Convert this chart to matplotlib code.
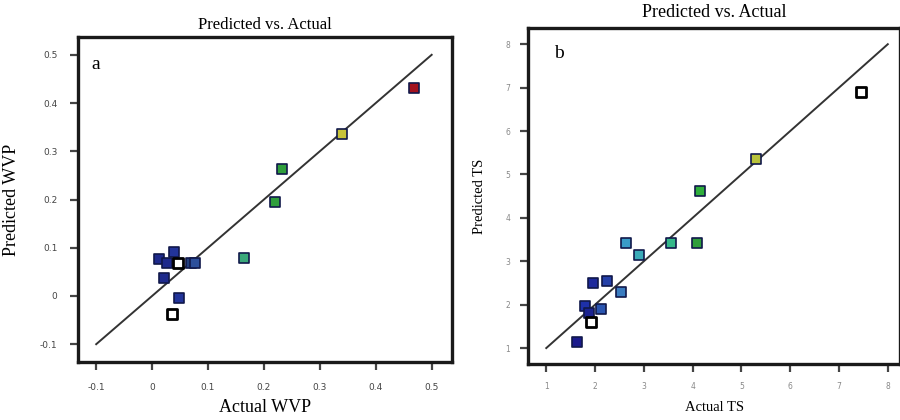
import matplotlib.pyplot as plt

plt.rcParams["font.family"] = ["Liberation Serif", "DejaVu Serif"]

# Panel a: water vapour permeability
wvp_actual = [0.468, 0.339, 0.232, 0.220, 0.164, 0.013, 0.039, 0.026, 0.046,
              0.069, 0.077, 0.021, 0.048, 0.035]
wvp_pred = [0.432, 0.336, 0.263, 0.195, 0.079, 0.077, 0.091, 0.068, 0.068,
            0.068, 0.068, 0.037, -0.004, -0.037]
wvp_colors = ["#a3121f", "#c8c43a", "#2f9e3c", "#2f9e3c", "#3aa87a", "#1e2a8c",
              "#22349a", "#1e2a8c", "white", "#23407e", "#2c4f9c", "#1e2a8c",
              "#22349a", "white"]

# Panel b: tensile strength
ts_actual = [7.46, 5.29, 4.15, 3.56, 4.09, 2.64, 2.90, 1.96, 2.25, 2.53,
             1.80, 2.12, 1.88, 1.92, 1.63]
ts_pred = [6.89, 5.35, 4.61, 3.41, 3.41, 3.41, 3.14, 2.49, 2.54, 2.29,
           1.96, 1.91, 1.80, 1.60, 1.13]
ts_colors = ["white", "#b8c23a", "#2fae3c", "#35b88a", "#2f9e3c", "#3a9cc8",
             "#3aaab8", "#1e2a9c", "#2540a8", "#3a7cc0", "#1e30a8", "#2a55b0",
             "#1a2290", "white", "#1a1a8c"]


def draw_panel(ax, actual, pred, colors, lims, ticks, tick_fmt, tick_size, tick_color, pad):
    ax.plot([ticks[0], ticks[-1]], [ticks[0], ticks[-1]], color="#333333", lw=1.4, zorder=1)
    for x, y, c in zip(actual, pred, colors):
        if c == "white":
            ax.scatter(x, y, marker="s", s=42, facecolor="white", edgecolor="black",
                       linewidths=2.0, zorder=3)
        else:
            ax.scatter(x, y, marker="s", s=42, facecolor=c, edgecolor="#10184a",
                       linewidths=1.2, zorder=3)
    ax.set_xlim(lims[0], lims[1])
    ax.set_ylim(lims[2], lims[3])
    ax.set_xticks(ticks)
    ax.set_yticks(ticks)
    ax.set_xticklabels([tick_fmt(t) for t in ticks], family="DejaVu Sans",
                       fontsize=tick_size, color=tick_color)
    ax.set_yticklabels([tick_fmt(t) for t in ticks], family="DejaVu Sans",
                       fontsize=tick_size, color=tick_color)
    ax.tick_params(direction="out", length=6, width=1.6, color="#444444", pad=pad)
    for s in ax.spines.values():
        s.set_linewidth(2.4)
        s.set_color("#1a1a1a")


fig = plt.figure(figsize=(9, 4.2), dpi=100)

ax1 = fig.add_axes([0.087, 0.138, 0.415, 0.774])
wvp_ticks = [-0.1, 0, 0.1, 0.2, 0.3, 0.4, 0.5]
draw_panel(ax1, wvp_actual, wvp_pred, wvp_colors, (-0.132, 0.536, -0.137, 0.537),
           wvp_ticks, lambda t: "0" if t == 0 else f"{t:g}", 6.5, "#444444", 9)
ax1.set_title("Predicted vs. Actual", fontsize=12, pad=6)
ax1.set_xlabel("Actual WVP", fontsize=13, labelpad=5)
ax1.set_ylabel("Predicted WVP", fontsize=13, labelpad=14)
ax1.text(0.035, 0.94, "a", transform=ax1.transAxes, fontsize=14, va="top")

ax2 = fig.add_axes([0.587, 0.133, 0.413, 0.8])
ts_ticks = [1, 2, 3, 4, 5, 6, 7, 8]
draw_panel(ax2, ts_actual, ts_pred, ts_colors, (0.632, 8.25, 0.63, 8.37),
           ts_ticks, lambda t: f"{t}", 5.5, "#888888", 7)
ax2.set_title("Predicted vs. Actual", fontsize=13, pad=8)
ax2.set_xlabel("Actual TS", fontsize=10.5, labelpad=7)
ax2.set_ylabel("Predicted TS", fontsize=10.5, labelpad=14)
ax2.text(0.07, 0.95, "b", transform=ax2.transAxes, fontsize=14, va="top")

fig.savefig("out.png", dpi=100)
